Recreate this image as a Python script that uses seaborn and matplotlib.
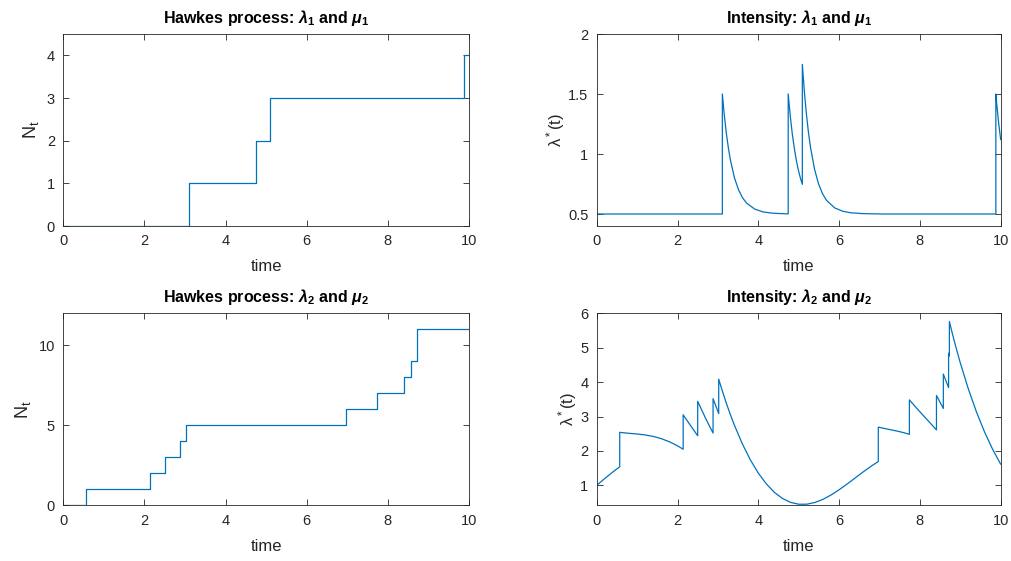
import numpy as np
import pandas as pd
import matplotlib
matplotlib.use("Agg")
import matplotlib.pyplot as plt
import seaborn as sns

# ---- data ----
events1 = [3.11, 4.74, 5.09, 9.88]
counts1 = [1, 2, 3, 4]

events2 = [0.57, 2.14, 2.50, 2.88, 3.02, 6.97, 7.74, 8.41, 8.58, 8.71, 8.73]
counts2 = [1, 2, 3, 4, 5, 6, 7, 8, 9, 10, 11]

int1_t = [0.00, 3.11, 3.11, 3.16, 3.21, 3.26, 3.31, 3.41, 3.51, 3.61, 3.71, 3.91,
          4.11, 4.31, 4.51, 4.74, 4.74, 4.79, 4.84, 4.89, 4.94, 4.99, 5.04, 5.09,
          5.09, 5.14, 5.19, 5.24, 5.29, 5.39, 5.49, 5.59, 5.69, 5.89, 6.09, 6.29,
          6.59, 7.09, 9.88, 9.88, 9.90, 9.95, 10.00]
int1_v = [0.500, 0.500, 1.500, 1.319, 1.170, 1.049, 0.949, 0.801, 0.702, 0.635, 0.591, 0.541,
          0.518, 0.508, 0.504, 0.501, 1.501, 1.320, 1.171, 1.050, 0.950, 0.868, 0.802, 0.747,
          1.747, 1.521, 1.336, 1.184, 1.060, 0.876, 0.752, 0.669, 0.613, 0.551, 0.523, 0.510,
          0.503, 0.500, 0.500, 1.500, 1.423, 1.256, 1.119]

int2_t = [0.00, 0.20, 0.40, 0.57, 0.57, 0.80, 1.00, 1.20, 1.40, 1.60, 1.80, 2.00,
          2.14, 2.14, 2.30, 2.50, 2.50, 2.70, 2.88, 2.88, 3.02, 3.02,
          3.10, 3.20, 3.30, 3.40, 3.60, 3.80, 4.00, 4.20, 4.40, 4.60, 4.80, 5.00,
          5.20, 5.40, 5.60, 5.80, 6.00, 6.20, 6.40, 6.60, 6.80, 6.97, 6.97,
          7.20, 7.40, 7.60, 7.74, 7.74, 7.90, 8.10, 8.30, 8.41, 8.41, 8.58, 8.58,
          8.71, 8.71, 8.73, 8.73, 8.80, 8.90, 9.00, 9.20, 9.40, 9.60, 9.80, 10.00]
int2_v = [1.000, 1.199, 1.389, 1.540, 2.540, 2.512, 2.492, 2.465, 2.421, 2.357, 2.266, 2.149,
          2.050, 3.050, 2.775, 2.441, 3.441, 2.936, 2.519, 3.519, 3.086, 4.086,
          3.779, 3.418, 3.083, 2.772, 2.218, 1.747, 1.356, 1.040, 0.794, 0.617, 0.504, 0.451,
          0.452, 0.502, 0.593, 0.719, 0.871, 1.040, 1.217, 1.394, 1.562, 1.691, 2.691,
          2.634, 2.586, 2.531, 2.483, 3.483, 3.268, 3.009, 2.753, 2.612, 3.612, 3.234, 4.234,
          3.840, 4.840, 4.761, 5.761, 5.427, 4.978, 4.558, 3.798, 3.133, 2.552, 2.047, 1.613]

xticks = [0, 2, 4, 6, 8, 10]
yticks_tl = [0, 1, 2, 3, 4]
yticks_tr = [0.5, 1, 1.5, 2]
yticks_bl = [0, 5, 10]
yticks_br = [1, 2, 3, 4, 5, 6]

# ---- style ----
sns.set_style("ticks")
plt.rcParams['font.family'] = ['Liberation Sans', 'DejaVu Sans']
plt.rcParams['mathtext.fontset'] = 'custom'
plt.rcParams['mathtext.rm'] = 'Liberation Sans'
plt.rcParams['mathtext.it'] = 'Liberation Sans:italic'
plt.rcParams['mathtext.bf'] = 'Liberation Sans:bold'
plt.rcParams['mathtext.bfit'] = 'Liberation Sans:bold:italic'

BLUE = '#0072BD'
AX = '#262626'

fig = plt.figure(figsize=(10.11, 5.61), dpi=100)
W, H = 1011, 561
def rect(x0, x1, ytop, ybot):
    return [x0 / W, 1 - ybot / H, (x1 - x0) / W, (ybot - ytop) / H]

ax_tl = fig.add_axes(rect(63.3, 469.0, 34.0, 226.0))
ax_tr = fig.add_axes(rect(596.7, 1000.7, 34.0, 226.0))
ax_bl = fig.add_axes(rect(63.3, 469.0, 313.3, 505.3))
ax_br = fig.add_axes(rect(596.7, 1000.7, 313.3, 505.3))

def step_frame(ev, cnt):
    t = [0.0] + list(ev) + [10.0]
    n = [0] + list(cnt) + [cnt[-1]]
    return pd.DataFrame({'t': t, 'n': n})

df1 = step_frame(events1, counts1)
df2 = step_frame(events2, counts2)
dfi1 = pd.DataFrame({'t': int1_t, 'v': int1_v})
dfi2 = pd.DataFrame({'t': int2_t, 'v': int2_v})

sns.lineplot(data=df1, x='t', y='n', ax=ax_tl, color=BLUE, lw=0.9,
             drawstyle='steps-post', estimator=None, sort=False)
sns.lineplot(data=df2, x='t', y='n', ax=ax_bl, color=BLUE, lw=0.9,
             drawstyle='steps-post', estimator=None, sort=False)
sns.lineplot(data=dfi1, x='t', y='v', ax=ax_tr, color=BLUE, lw=0.9,
             estimator=None, sort=False)
sns.lineplot(data=dfi2, x='t', y='v', ax=ax_br, color=BLUE, lw=0.9,
             estimator=None, sort=False)

sub = {ax_tl: ('Hawkes process', '1'), ax_tr: ('Intensity', '1'),
       ax_bl: ('Hawkes process', '2'), ax_br: ('Intensity', '2')}
for ax, (name, k) in sub.items():
    ax.set_title(name + r': $\mathbfit{\lambda}_{\mathbf{' + k + r'}}$ and $\mathbfit{\mu}_{\mathbf{' + k + r'}}$',
                 fontsize=11.5, fontweight='bold', color='black', pad=8)
    ax.set_xlim(0, 10)
    ax.set_xticks(xticks)
    ax.set_xticklabels([str(v) for v in xticks])
    ax.set_xlabel('time', fontsize=12, color=AX, labelpad=8)
    ax.tick_params(direction='in', top=True, right=True, length=4, width=0.6,
                   colors=AX, labelsize=10.5, pad=6)
    for s in ax.spines.values():
        s.set_visible(True)
        s.set_color(AX)
        s.set_linewidth(0.6)

ax_tl.set_ylim(0, 4.5)
ax_tl.set_yticks(yticks_tl)
ax_tl.set_yticklabels([str(v) for v in yticks_tl])
ax_tl.set_ylabel(r'$\mathrm{N_t}$', fontsize=13, color=AX, labelpad=4)

ax_bl.set_ylim(0, 12)
ax_bl.set_yticks(yticks_bl)
ax_bl.set_yticklabels([str(v) for v in yticks_bl])
ax_bl.set_ylabel(r'$\mathrm{N_t}$', fontsize=13, color=AX, labelpad=4)

ax_tr.set_ylim(0.4, 2)
ax_tr.set_yticks(yticks_tr)
ax_tr.set_yticklabels(['0.5', '1', '1.5', '2'])
ax_tr.set_ylabel(r'$\mathrm{\lambda^*(t)}$', fontsize=12, color=AX, labelpad=1)

ax_br.set_ylim(0.42, 6)
ax_br.set_yticks(yticks_br)
ax_br.set_yticklabels([str(v) for v in yticks_br])
ax_br.set_ylabel(r'$\mathrm{\lambda^*(t)}$', fontsize=12, color=AX, labelpad=1)

fig.savefig('out.png', dpi=100)
